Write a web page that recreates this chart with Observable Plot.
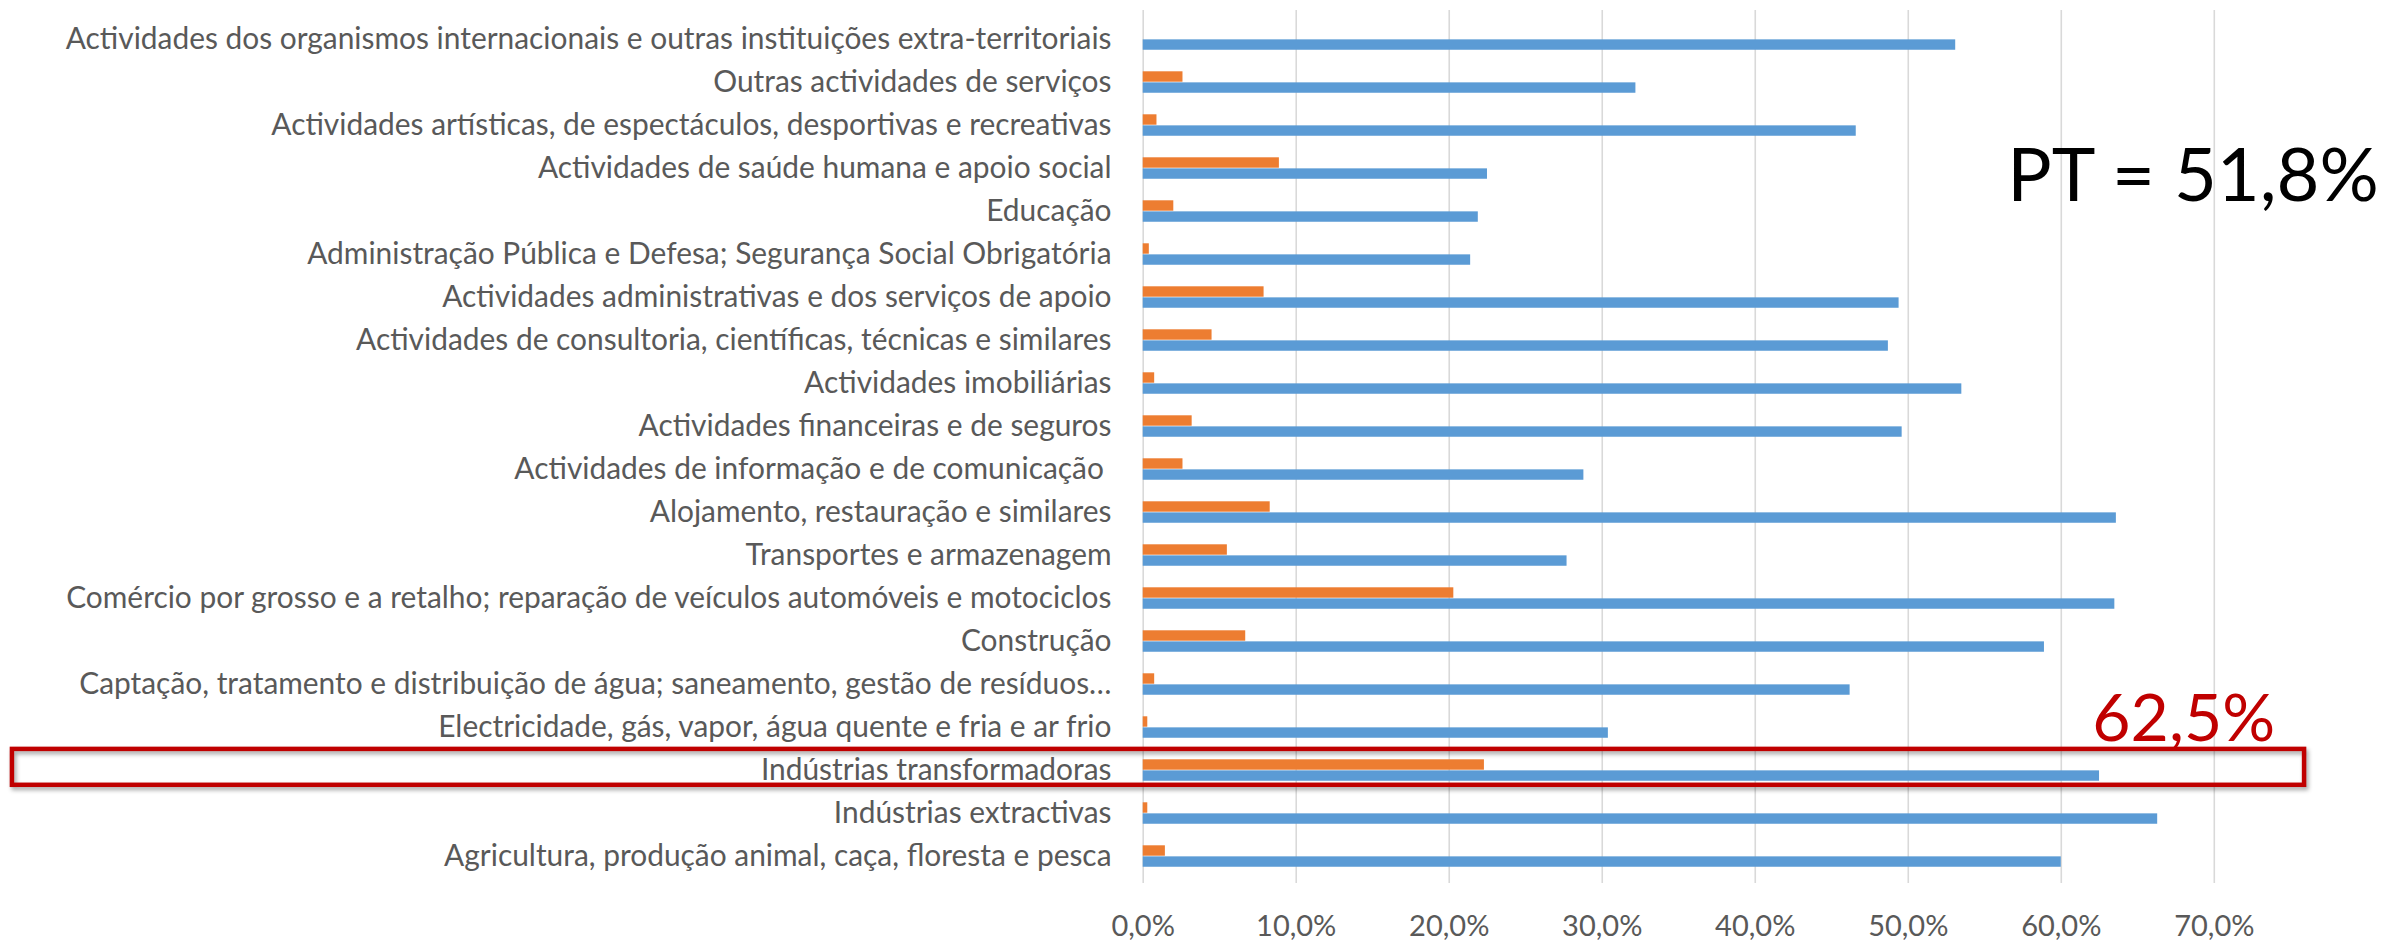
<!DOCTYPE html>
<html>
<head>
<meta charset="utf-8">
<script src="https://cdn.jsdelivr.net/npm/d3@7"></script>
<script src="https://cdn.jsdelivr.net/npm/@observablehq/plot@0.6"></script>
<style>
  html, body { margin: 0; padding: 0; background: #ffffff; }
  #chart svg { display: block; }
</style>
</head>
<body>
<div id="chart"></div>
<script>
// Categories, top to bottom as drawn
const categories = [
  "Actividades dos organismos internacionais e outras instituições extra-territoriais",
  "Outras actividades de serviços",
  "Actividades artísticas, de espectáculos, desportivas e recreativas",
  "Actividades de saúde humana e apoio social",
  "Educação",
  "Administração Pública e Defesa; Segurança Social Obrigatória",
  "Actividades administrativas e dos serviços de apoio",
  "Actividades de consultoria, científicas, técnicas e similares",
  "Actividades imobiliárias",
  "Actividades financeiras e de seguros",
  "Actividades de informação e de comunicação\u00a0",
  "Alojamento, restauração e similares",
  "Transportes e armazenagem",
  "Comércio por grosso e a retalho; reparação de veículos automóveis e motociclos",
  "Construção",
  "Captação, tratamento e distribuição de água; saneamento, gestão de resíduos…",
  "Electricidade, gás, vapor, água quente e fria e ar frio",
  "Indústrias transformadoras",
  "Indústrias extractivas",
  "Agricultura, produção animal, caça, floresta e pesca"
];

// Blue series (%), same order
const blueValues = [53.1, 32.2, 46.6, 22.5, 21.9, 21.4, 49.4, 48.7, 53.5, 49.6,
                    28.8, 63.6, 27.7, 63.5, 58.9, 46.2, 30.4, 62.5, 66.3, 60.0];
// Orange series (%), same order
const orangeValues = [0.0, 2.6, 0.9, 8.9, 2.0, 0.4, 7.9, 4.5, 0.75, 3.2,
                      2.6, 8.3, 5.5, 20.3, 6.7, 0.75, 0.3, 22.3, 0.3, 1.45];

// Axis ticks (%)
const xTicks = [0, 10, 20, 30, 40, 50, 60, 70];

// Annotations
const highlightCategory = ["Indústrias transformadoras"];
const highlightValue = [62.5];
const highlightSpan = [-73.9, 75.9];   // horizontal extent of the highlight frame, in % units
const ptValue = [51.8];

const fmt = v => v.toFixed(1).replace(".", ",") + "%";

const rows = categories.map((c, i) => ({category: c, blue: blueValues[i], orange: orangeValues[i]}));

const font = "Lato, 'Open Sans', 'Liberation Sans', sans-serif";

const chart = Plot.plot({
  width: 2387,
  height: 940,
  marginLeft: 1142.7,
  marginRight: 173.2,
  marginTop: 10,
  marginBottom: 57,
  style: {fontFamily: font, fontSize: "29px", color: "#595959", background: "#ffffff", overflow: "visible"},
  x: {domain: [0, 70], label: null},
  y: {domain: categories, padding: 0, label: null},
  marks: [
    Plot.ruleX(xTicks, {stroke: "#D9D9D9", strokeWidth: 1.6}),
    Plot.barX(rows, {x: "orange", y: "category", fill: "#ED7D31", insetTop: 11.3, insetBottom: 21.3}),
    Plot.barX(rows, {x: "blue", y: "category", fill: "#5B9BD5", insetTop: 22.35, insetBottom: 10.25}),
    Plot.axisX({ticks: xTicks, tickSize: 0, tickPadding: 32, tickFormat: fmt, label: null, fill: "#595959", fontSize: 29}),
    Plot.axisY({tickSize: 0, tickPadding: 31.7, label: null, fill: "#595959", fontSize: 29.9}),
    // highlight frame
    Plot.barX(highlightCategory, {x1: highlightSpan[0], x2: highlightSpan[1], y: d => d,
      fill: "none", stroke: "#C00000", strokeWidth: 4.5, insetTop: 0.9, insetBottom: 6.2}),
    // highlighted value
    Plot.text(highlightValue, {x: 68.0, y: highlightCategory, text: d => fmt(d),
      fill: "#C00000", fontSize: 66, textAnchor: "middle", lineAnchor: "bottom", dy: -28.9,
      fontFamily: font}),
    // national total
    Plot.text(ptValue, {frameAnchor: "top-right", text: d => "PT = " + fmt(d),
      fill: "#000000", fontSize: 74, textAnchor: "middle", lineAnchor: "bottom", dx: -21.3, dy: 190,
      fontFamily: font})
  ]
});

d3.select(chart).selectAll('g[stroke="#C00000"]')
  .style("filter", "drop-shadow(2px 3px 2px rgba(0,0,0,0.35))");

document.getElementById("chart").appendChild(chart);
</script>
</body>
</html>
